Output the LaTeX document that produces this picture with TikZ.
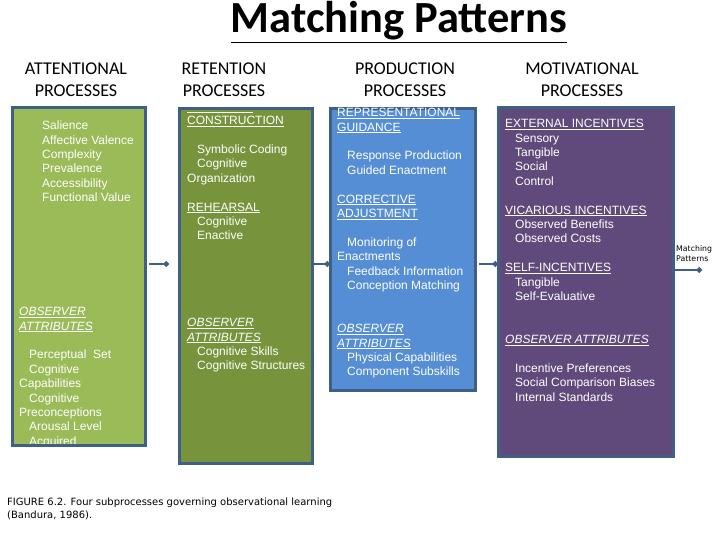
\documentclass[tikz,border=0pt]{standalone}
\usepackage{fontspec}
\setmainfont{Liberation Sans}
\newfontfamily\hdfont{Carlito}
\newfontfamily\capfont{DejaVu Sans}
\usetikzlibrary{arrows.meta}
\definecolor{gA}{HTML}{9BBB59}
\definecolor{gB}{HTML}{77933C}
\definecolor{bC}{HTML}{558ED5}
\definecolor{pD}{HTML}{604A7B}
\definecolor{edgecol}{HTML}{3F5F85}
\newcommand\fl{\rule{0pt}{10pt}}
\newcommand\ind{\hspace*{10pt}}
\newcommand\ul[1]{\underline{#1}}
\newcommand\uli[1]{\underline{\textit{#1}}}
\begin{document}
\begin{tikzpicture}[x=1pt,y=-1pt,
  panel/.style={draw=edgecol, line width=3pt, anchor=north west, inner sep=0pt, outer sep=0pt},
  body/.style={text=white, font=\fontsize{12}{14.4}\selectfont, align=left, inner sep=0pt, anchor=north west},
  head/.style={font=\hdfont\fontsize{18}{22}\selectfont, align=center, inner sep=0pt, anchor=north},
  conn/.style={draw=edgecol, line width=2pt, -{Circle[length=5.5pt]}}]
\useasboundingbox (0,0) rectangle (720,540);
\fill[white] (0,0) rectangle (720,540);

% title
\node[font=\hdfont\bfseries\fontsize{44.5}{50}\selectfont, inner sep=0pt, anchor=base] (title) at (399,33) {\underline{Matching Patterns}};

% headers
\node[head] (h1) at (76,60) {\rule{0pt}{14pt}ATTENTIONAL\\PROCESSES};
\node[head] (h2) at (224,60) {\rule{0pt}{14pt}RETENTION\\PROCESSES};
\node[head] (h3) at (405,60) {\rule{0pt}{14pt}PRODUCTION\\PROCESSES};
\node[head] (h4) at (582,60) {\rule{0pt}{14pt}MOTIVATIONAL\\PROCESSES};

% panels
\node[panel, fill=gA, minimum width=133pt, minimum height=337pt] (att) at (12,108) {};
\node[panel, fill=gB, minimum width=133pt, minimum height=354pt] (ret) at (179,109) {};
\node[panel, fill=bC, minimum width=145pt, minimum height=281pt] (prod) at (330,109) {};
\node[panel, fill=pD, minimum width=175pt, minimum height=348pt] (mot) at (498,108) {};

% attentional text
\begin{scope}
\clip (att.north west) rectangle (att.south east);
\node[body] (a1) at (42,119.5) {\fl Salience\\Affective Valence\\Complexity\\Prevalence\\Accessibility\\Functional Value};
\node[body] (a2) at (19,305.5) {\fl\uli{OBSERVER}\\\uli{ATTRIBUTES}\\[14.4pt]\ind Perceptual\ \ Set\\\ind Cognitive\\Capabilities\\\ind Cognitive\\Preconceptions\\\ind Arousal Level\\\ind Acquired};
\end{scope}
\draw[draw=edgecol, line width=3pt] (att.north west) rectangle (att.south east);

% retention text
\begin{scope}
\clip (ret.north west) rectangle (ret.south east);
\node[body] (r1) at (187,100) {\fl\ul{COGNITIVE}\\\ul{CONSTRUCTION}\\[14.4pt]\ind Symbolic Coding\\\ind Cognitive\\Organization\\[14.4pt]\ul{REHEARSAL}\\\ind Cognitive\\\ind Enactive};
\node[body] (r2) at (187,316.5) {\fl\uli{OBSERVER}\\\uli{ATTRIBUTES}\\\ind Cognitive Skills\\\ind Cognitive Structures};
\end{scope}
\draw[draw=edgecol, line width=3pt] (ret.north west) rectangle (ret.south east);

% production text
\node[body] (p1) at (337,106.5) {\fl\ul{REPRESENTATIONAL}\\\ul{GUIDANCE}\\[14.4pt]\ind Response Production\\\ind Guided Enactment\\[14.4pt]\ul{CORRECTIVE}\\\ul{ADJUSTMENT}\\[14.4pt]\ind Monitoring of\\Enactments\\\ind Feedback Information\\\ind Conception Matching};
\node[body] (p2) at (337,322.5) {\fl\uli{OBSERVER}\\\uli{ATTRIBUTES}\\\ind Physical Capabilities\\\ind Component Subskills};

% motivational text
\node[body] (m1) at (505,117.5) {\fl\ul{EXTERNAL INCENTIVES}\\\ind Sensory\\\ind Tangible\\\ind Social\\\ind Control\\[14.4pt]\ul{VICARIOUS INCENTIVES}\\\ind Observed Benefits\\\ind Observed Costs\\[14.4pt]\ul{SELF-INCENTIVES}\\\ind Tangible\\\ind Self-Evaluative};
\node[body] (m2) at (505,333.5) {\fl\uli{OBSERVER ATTRIBUTES}\\[14.4pt]\ind Incentive Preferences\\\ind Social Comparison Biases\\\ind Internal Standards};

% connectors
\coordinate (lvl) at (0,264);
\coordinate (lvlb) at (0,270);
\coordinate (out) at (702,270);
\draw[conn, shorten <=4pt, shorten >=10pt] (att.east |- lvl) -- (ret.west |- lvl);
\draw[conn] (ret.east |- lvl) -- (prod.west |- lvl);
\draw[conn, shorten <=4pt] (prod.east |- lvl) -- (mot.west |- lvl);
\draw[conn] (mot.east |- lvlb) -- (out);
\node[font=\capfont\fontsize{7.8}{9.5}\selectfont, align=left, inner sep=0pt, anchor=north west] (mp) at (676,244) {\rule{0pt}{7.5pt}Matching\\Patterns};

% caption
\node[font=\capfont\fontsize{10}{13}\selectfont, align=left, inner sep=0pt, anchor=north west] (cap) at (7,495) {\rule{0pt}{10pt}FIGURE 6.2. Four subprocesses governing observational learning\\(Bandura, 1986).};
\end{tikzpicture}
\end{document}
